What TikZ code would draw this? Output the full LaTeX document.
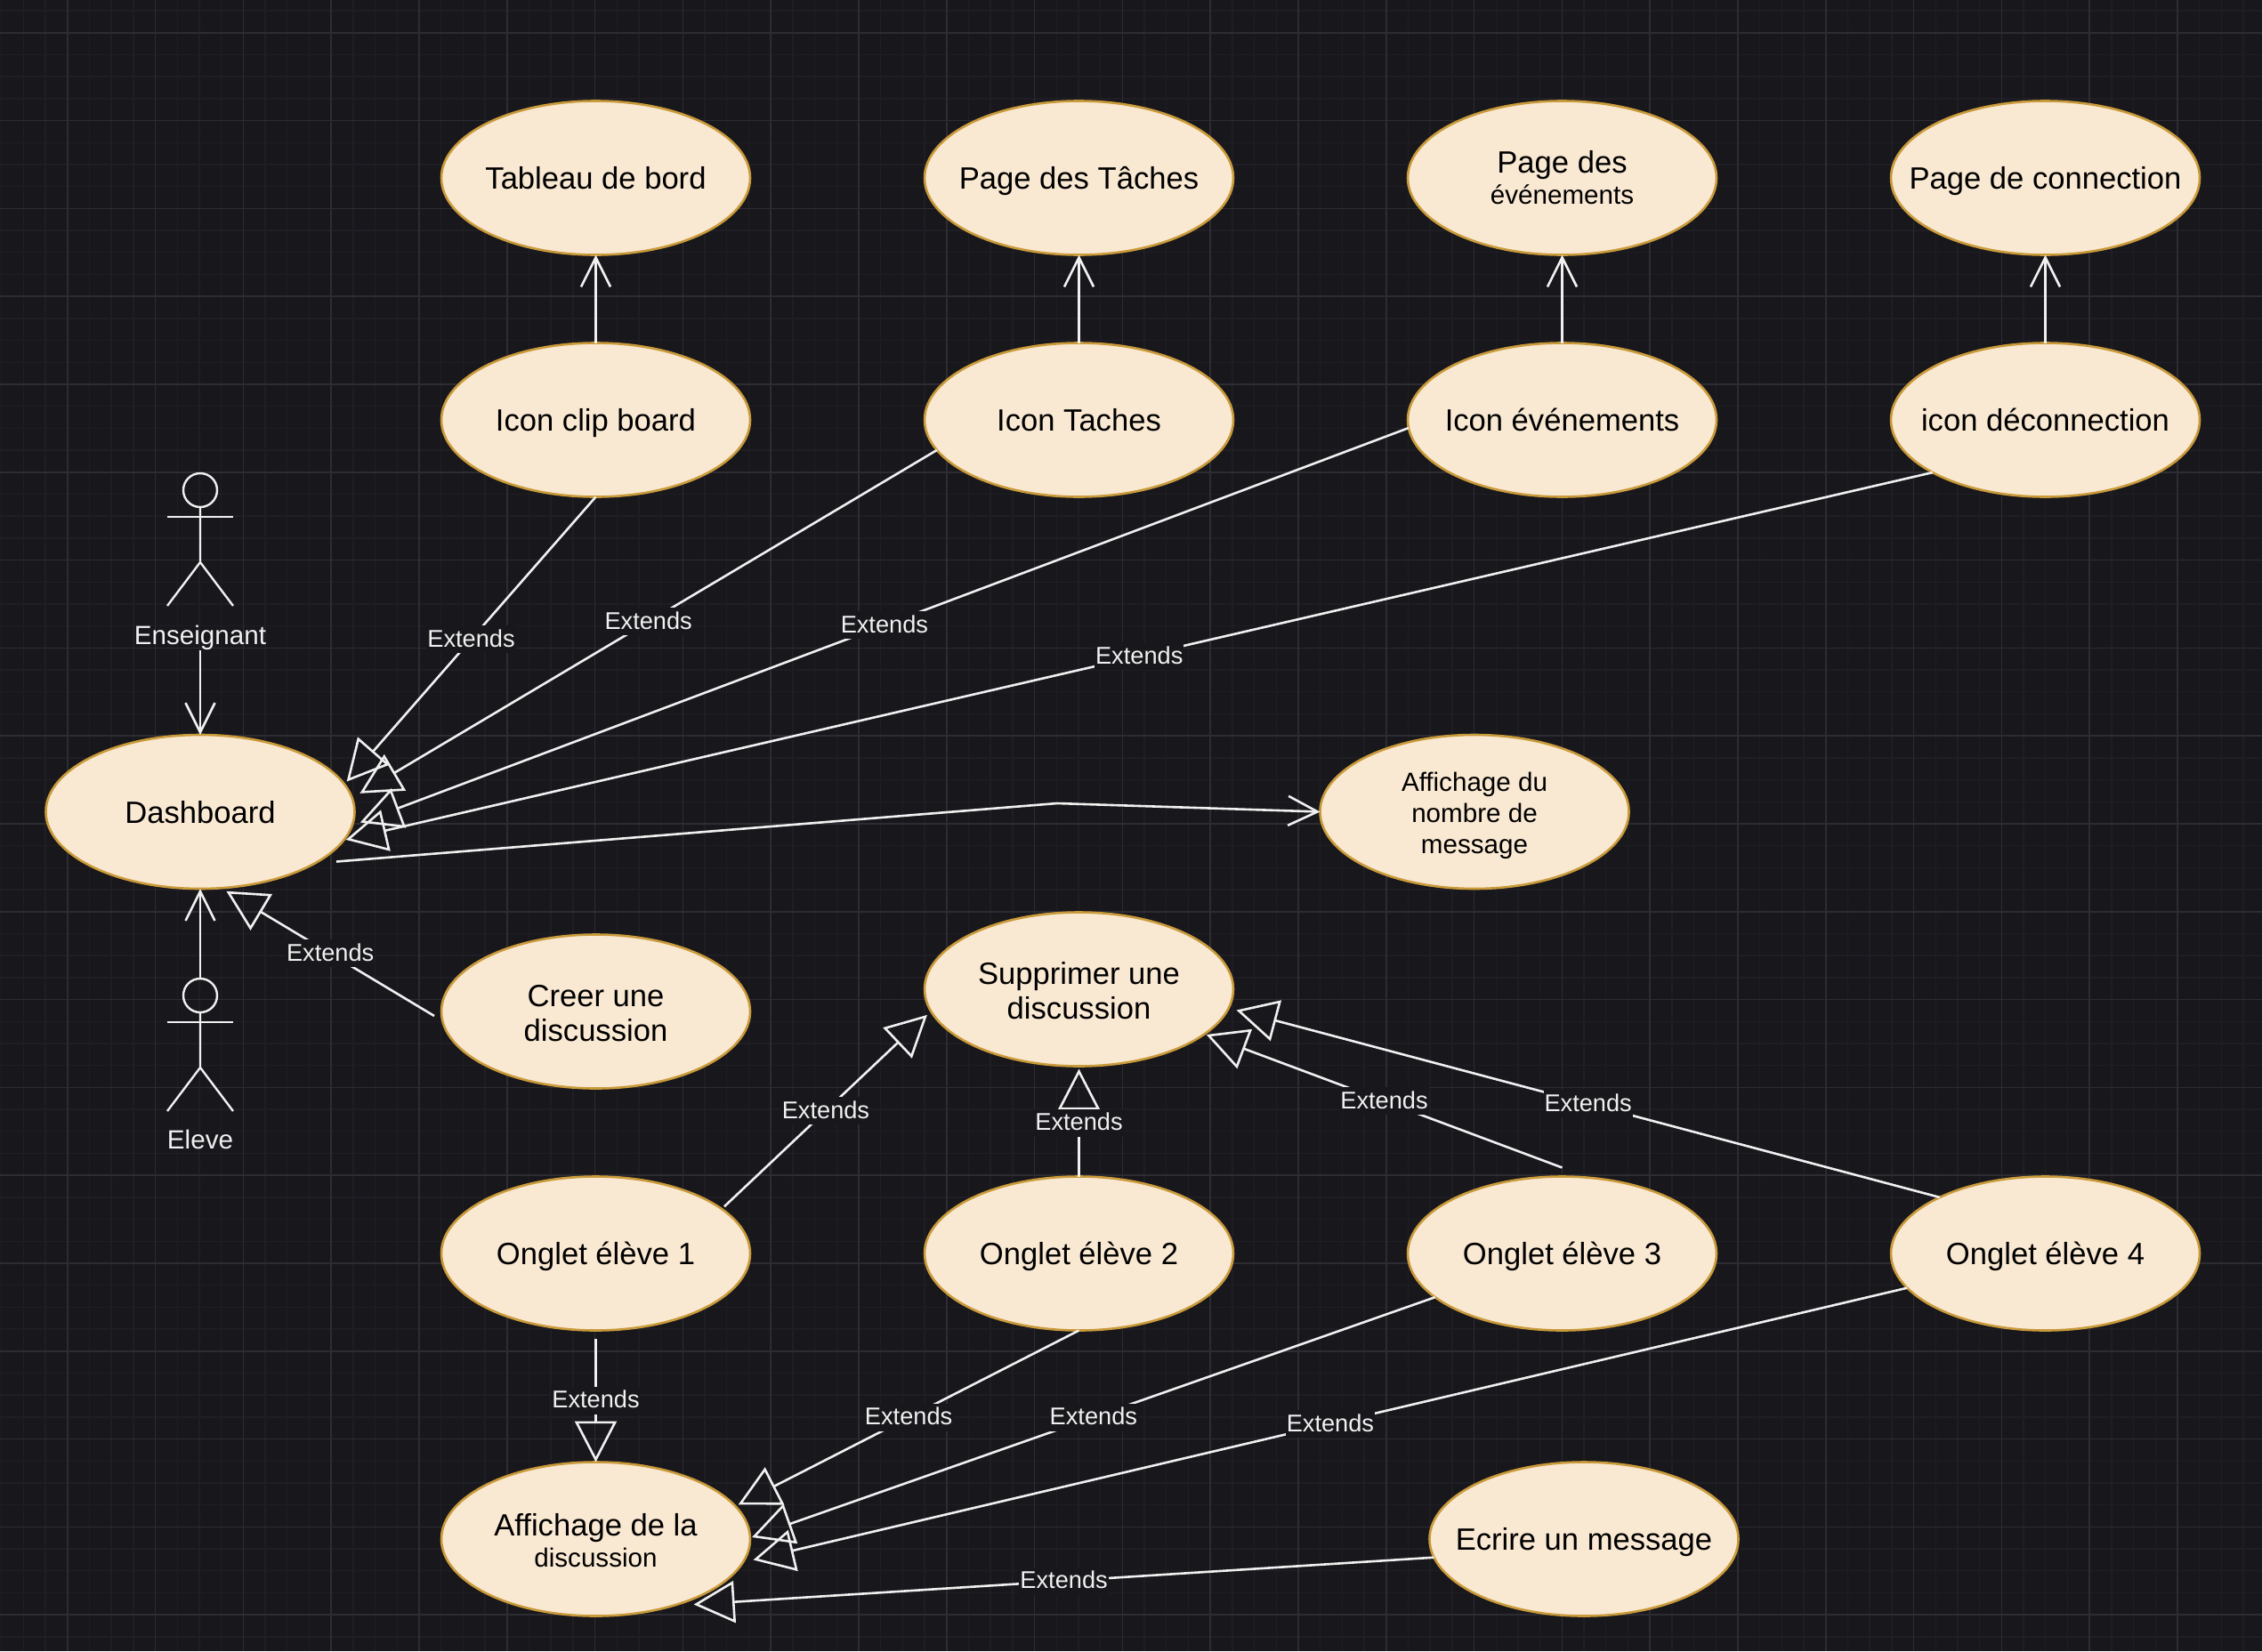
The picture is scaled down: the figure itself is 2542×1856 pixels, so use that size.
\documentclass[tikz,border=0pt]{standalone}
\usepackage{fontspec}
\setmainfont{Liberation Sans}
\usetikzlibrary{shapes.geometric,arrows.meta,positioning}
\definecolor{bgBoard}{HTML}{18171C}
\definecolor{gridMajor}{HTML}{2D2C32}
\definecolor{gridMinor}{HTML}{1F1E24}
\definecolor{caseFill}{HTML}{F9E8D2}
\definecolor{caseEdge}{HTML}{C99A3A}
\definecolor{lineWhite}{HTML}{F0F0F0}
\newcommand{\subfont}{\fontsize{29.6pt}{35pt}\selectfont}
\newcommand{\toppad}[1]{\rule{0pt}{#1}}

\begin{document}
\begin{tikzpicture}[
      x=1pt, y=-1pt,
      node distance=99pt and 196pt,
      usecase/.style={
        ellipse, fill=caseFill, draw=caseEdge, line width=2.6pt, text=black, align=center,
        font=\fontsize{34.6pt}{39pt}\selectfont, minimum width=347pt, minimum height=173pt,
        inner xsep=-40pt, inner ysep=0pt, outer sep=0pt
      },
      singlecase/.style={usecase, text height=28pt, text depth=3pt},
      smallcase/.style={usecase, font=\subfont},
      actorhead/.style={circle, draw=lineWhite, line width=2.4pt, minimum size=38pt, inner sep=0pt, outer sep=0pt},
      actorline/.style={draw=lineWhite, line width=2.4pt},
      actorlabel/.style={text=lineWhite, font=\subfont, text height=24pt, text depth=6pt, inner sep=1pt},
      extlabel/.style={fill=bgBoard, text=lineWhite, font=\fontsize{27.2pt}{30pt}\selectfont,
        text height=24pt, text depth=7pt, inner xsep=1pt, inner ysep=0pt},
      extarr/.style={-{Triangle[open,length=46pt,width=47pt]}, draw=lineWhite, line width=2.6pt},
      openarr/.style={-{Straight Barb[length=33pt,width=33pt]}, draw=lineWhite, line width=2.6pt}
    ]
      \fill[bgBoard] (0,0) rectangle (2542,1856);
      \useasboundingbox (0,0) rectangle (2542,1856);
      \foreach \gx in {0,...,103} \draw[gridMinor, line width=1.4pt] ({1.6+24.7*\gx},0) -- ({1.6+24.7*\gx},1856);
      \foreach \gy in {0,...,75} \draw[gridMinor, line width=1.4pt] (0,{12+24.7*\gy}) -- (2542,{12+24.7*\gy});
      \foreach \gx in {0,...,25} \draw[gridMajor, line width=1.6pt] ({75.7+98.8*\gx},0) -- ({75.7+98.8*\gx},1856);
      \foreach \gy in {0,...,18} \draw[gridMajor, line width=1.6pt] (0,{36.7+98.8*\gy}) -- (2542,{36.7+98.8*\gy});

      \node[singlecase] (iconclip) at (669.5,472) {Icon clip board};
      \node[singlecase, right=of iconclip] (icontask) {Icon Taches};
      \node[singlecase, right=of icontask] (iconevent) {Icon événements};
      \node[singlecase, right=of iconevent] (icondeco) {icon déconnection};
      \node[singlecase, above=of iconclip] (pageboard) {Tableau de bord};
      \node[singlecase, above=of icontask] (pagetask) {Page des Tâches};
      \node[usecase, above=of iconevent] (pageevent) {Page des\\[-4pt]{\subfont événements}};
      \node[singlecase, above=of icondeco] (pageconn) {Page de connection};

      \node[singlecase] (dash) at (225,912.5) {Dashboard};
      \node[smallcase] (msgcount) at (1657,912.5) {\toppad{30pt}Affichage du\\nombre de\\message};
      \node[usecase] (creer) at (669.5,1137) {\toppad{28pt}Creer une\\discussion};
      \node[usecase] (suppr) at (1212.5,1112) {\toppad{28pt}Supprimer une\\discussion};

      \node[singlecase] (tab1) at (669.5,1409) {Onglet élève 1};
      \node[singlecase, right=of tab1] (tab2) {Onglet élève 2};
      \node[singlecase, right=of tab2] (tab3) {Onglet élève 3};
      \node[singlecase, right=of tab3] (tab4) {Onglet élève 4};
      \node[usecase, below=148pt of tab1] (disc) {\toppad{28pt}Affichage de la\\[-4pt]{\subfont discussion}};
      \node[singlecase] (ecrire) at (1780,1730) {Ecrire un message};

      \node[actorhead] (enshead) at (225,551) {};
      \draw[actorline] (enshead.south) -- ++(0,62) -- ++(-37,49) ++(37,-49) -- ++(37,49);
      \draw[actorline] ([xshift=-37pt,yshift=-11pt]enshead.south) -- ++(74,0);
      \node[actorlabel] (ensname) at (225,715) {Enseignant};
      \node[actorhead] (elevehead) at (225,1119) {};
      \draw[actorline] (elevehead.south) -- ++(0,62) -- ++(-37,49) ++(37,-49) -- ++(37,49);
      \draw[actorline] ([xshift=-37pt,yshift=-11pt]elevehead.south) -- ++(74,0);
      \node[actorlabel] (elevename) at (225,1282) {Eleve};

      \draw[openarr] (iconclip) -- (pageboard);
      \draw[openarr] (icontask) -- (pagetask);
      \draw[openarr] (iconevent) -- (pageevent);
      \draw[openarr] (icondeco) -- (pageconn);
      \draw[openarr] (ensname.south) -- (dash.north);
      \draw[openarr] (elevehead.north) -- (dash.south);

      \coordinate (msgbend) at (1188,903);
      \draw[openarr] ([xshift=13pt,yshift=-5pt]dash.-20) -- (msgbend) -- (msgcount.west);

      \draw[extarr] (iconclip.south) -- node[extlabel] (ext1) {Extends} ([xshift=5pt]dash.12);
      \draw[extarr] (icontask.192.6) -- node[extlabel] (ext2) {Extends} ([xshift=11pt]dash.7);
      \draw[extarr] (iconevent.183.2) -- node[extlabel] (ext3) {Extends} ([xshift=8pt]dash.-4.3);
      \draw[extarr] (icondeco.205.6) -- node[extlabel] (ext4) {Extends} ([xshift=2pt]dash.-11.2);
      \draw[extarr] ([xshift=-8pt,yshift=-5pt]creer.west) -- node[extlabel] (ext5) {Extends} ([yshift=-4pt]dash.-71);

      \draw[extarr] ([xshift=7pt]tab1.21) -- node[extlabel] (ext6) {Extends} ([xshift=-7pt]suppr.190.3);
      \draw[extarr] (tab2.north) -- node[extlabel] (ext7) {Extends} ([yshift=-3pt]suppr.south);
      \draw[extarr] ([yshift=10pt]tab3.north) -- node[extlabel] (ext8) {Extends} ([xshift=3pt]suppr.-20.5);
      \draw[extarr] (tab4.152.5) -- node[extlabel] (ext9) {Extends} ([xshift=10pt]suppr.-8.7);

      \draw[extarr] ([yshift=-9pt]tab1.south) -- node[extlabel] (ext10) {Extends} (disc.north);
      \draw[extarr] (tab2.south) -- node[extlabel] (ext11) {Extends} ([xshift=5pt]disc.14.5);
      \draw[extarr] (tab3.199.2) -- node[extlabel] (ext12) {Extends} ([xshift=2pt,yshift=2pt]disc.east);
      \draw[extarr] (tab4.194.4) -- node[extlabel] (ext13) {Extends} ([xshift=10pt]disc.-8);
      \draw[extarr] (ecrire.187) -- node[extlabel] (ext14) {Extends} ([xshift=7pt,yshift=-4pt]disc.-34);
    \end{tikzpicture}
\end{document}
